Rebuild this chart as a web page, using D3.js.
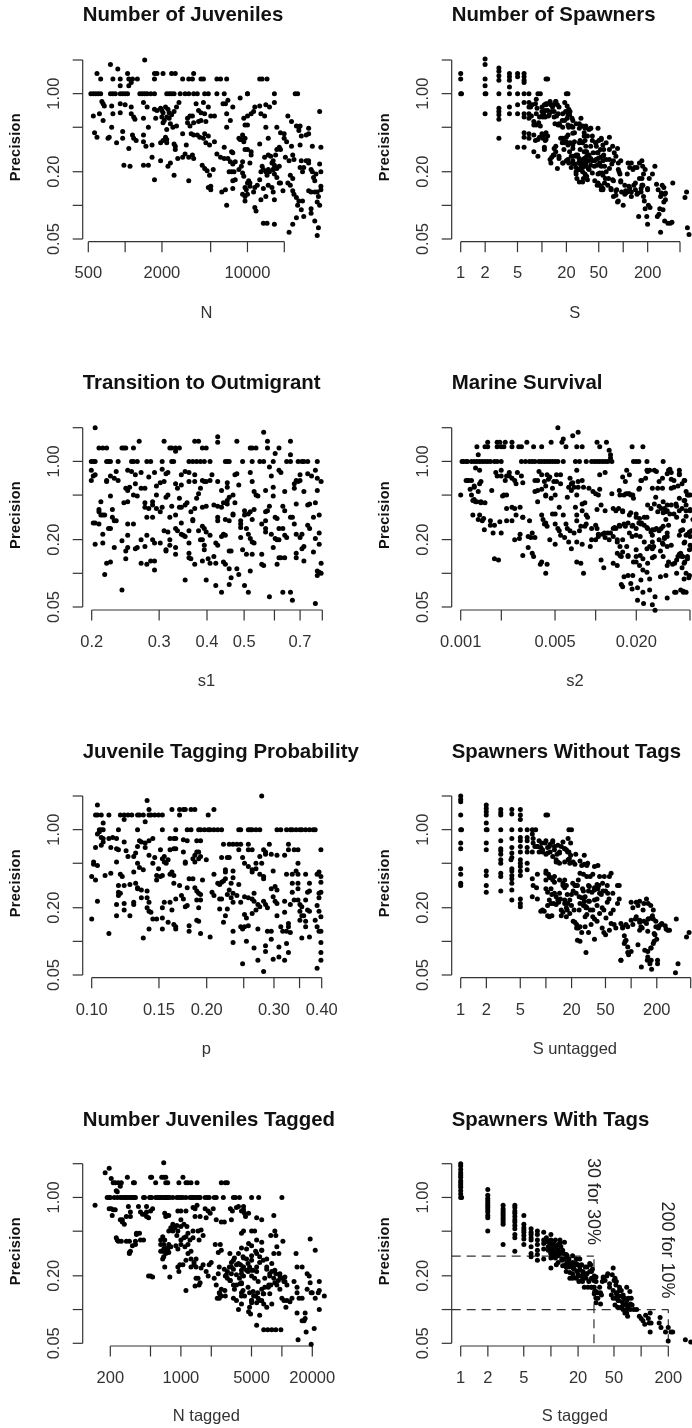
<!DOCTYPE html>
<html><head><meta charset="utf-8">
<script src="https://cdn.jsdelivr.net/npm/d3@7/dist/d3.min.js"></script>
<style>html,body{margin:0;padding:0;background:#fff;overflow:hidden}svg{display:block;filter:blur(0.3px)}</style>
</head><body><svg id="c" width="692" height="1428"></svg>
<script>
// All readings are [log10(x), log10(precision)].
const precisionTicks=[2,1,0.5,0.2,0.1,0.05];
const precisionLabels=[1,0.2,0.05];
const ticksN=[500,1000,2000,5000,10000,20000], labelsN=[500,2000,10000];
const ticksS=[1,2,5,10,20,50,100,200,500], labelsS=[1,2,5,20,50,200];
const ticksS1=[0.2,0.3,0.4,0.5,0.6,0.7,0.8], labelsS1=[0.2,0.3,0.4,0.5,0.7];
const ticksS2=[0.001,0.002,0.005,0.01,0.02,0.05], labelsS2=[0.001,0.005,0.02];
const ticksP=[0.1,0.15,0.2,0.25,0.3,0.35,0.4], labelsP=[0.1,0.15,0.2,0.3,0.4];
const ticksSU=[1,2,5,10,20,50,100,200,500], labelsSU=[1,2,5,20,50,200];
const ticksNT=[200,500,1000,2000,5000,10000,20000], labelsNT=[200,1000,5000,20000];
const ticksST=[1,2,5,10,20,50,100,200], labelsST=[1,2,5,20,50,200];

const juveniles=[[3.16,.30],[2.88,.26],[2.94,.22],[2.77,.18],[3.02,.18],[3.24,.18],[3.26,.18],[3.31,.18],[3.38,.18],[3.41,.18],[3.56,.18],
[2.80,.13],[2.90,.13],[2.96,.13],[3.03,.13],[3.06,.13],[3.10,.13],[3.24,.13],[3.47,.13],[3.52,.13],[3.55,.13],[3.62,.13],[3.64,.13],[3.75,.13],[3.78,.13],[3.83,.13],[4.10,.13],[4.12,.13],[4.16,.13],[2.96,.07],[3.03,.07],[3.05,.10],
[2.72,0],[2.74,0],[2.76,0],[2.78,0],[2.80,0],[2.88,0],[2.90,0],[2.92,0],[2.96,0],[2.98,0],[3.0,0],[3.02,0],[3.12,0],[3.14,0],[3.16,0],[3.18,0],[3.21,0],[3.24,0],[3.34,0],[3.36,0],[3.38,0],[3.40,0],[3.45,0],[3.49,0],[3.52,0],[3.56,0],[3.59,0],[3.65,0],[3.68,0],[3.75,0],[3.81,0],[4.0,0],[4.22,0],[4.39,0],[4.41,0],
[2.81,-.07],[2.83,-.11],[2.82,-.09],[2.89,-.11],[2.96,-.09],[3.0,-.10],[3.05,-.12],[3.15,-.08],[3.18,-.12],[2.74,-.2],[2.79,-.18],[2.82,-.24],[2.90,-.18],[2.96,-.17],[3.05,-.18],[3.07,-.21],[3.08,-.23],[3.15,-.22],[3.19,-.3],[2.89,-.3],[2.75,-.35],[2.77,-.39],[2.87,-.39],[2.86,-.40],[2.98,-.34],[2.98,-.40],[2.93,-.44],[3.03,-.49],[3.06,-.37],[3.07,-.4],[3.09,-.42],[3.15,-.37],[3.15,-.43],[3.17,-.47],[3.22,-.46],[3.22,-.57],[2.99,-.64],[3.04,-.65],[3.15,-.64],[3.19,-.64],[3.24,-.77],[3.29,-.6],
[3.24,-.14],[3.26,-.15],[3.29,-.13],[3.30,-.15],[3.31,-.17],[3.33,-.12],[3.35,-.14],[3.36,-.17],[3.38,-.19],[3.42,-.12],[3.40,-.16],[3.44,-.08],[3.30,-.21],[3.32,-.24],[3.31,-.26],[3.34,-.21],[3.36,-.22],[3.37,-.27],[3.39,-.3],[3.42,-.29],[3.34,-.32],[3.25,-.22],[3.33,-.39],[3.34,-.41],[3.31,-.42],[3.29,-.44],[3.34,-.44],[3.40,-.45],[3.41,-.47],[3.41,-.50],[3.47,-.36],[3.50,-.46],[3.49,-.54],[3.47,-.57],[3.52,-.57],[3.55,-.55],[3.56,-.58],[3.43,-.58],[3.37,-.62],[3.35,-.65],[3.40,-.73],[3.52,-.78],
[3.51,-.22],[3.53,-.2],[3.55,-.2],[3.51,-.26],[3.53,-.29],[3.56,-.26],[3.60,-.25],[3.62,-.24],[3.60,-.15],[3.62,-.17],[3.65,-.18],[3.58,-.09],[3.64,-.08],[3.68,-.12],[3.70,-.2],[3.73,-.2],[3.66,-.25],[3.59,-.37],[3.61,-.39],[3.64,-.40],[3.54,-.36],[3.56,-.37],[3.65,-.36],[3.68,-.38],[3.66,-.44],[3.69,-.46],[3.73,-.43],[3.75,-.54],[3.78,-.57],[3.81,-.58],[3.63,-.64],[3.65,-.67],[3.67,-.69],[3.72,-.68],[3.69,-.73],[3.70,-.83],[3.70,-.86],[3.68,-.84],
[3.80,-.09],[3.82,-.09],[3.84,-.06],[3.83,-.18],[3.86,-.24],[3.83,-.30],[3.88,-.12],[3.94,-.04],[4.0,0],[3.81,-.48],[3.79,-.88],[3.82,-.86],[3.88,-.85],[3.83,-1.0],
[3.84,-.58],[3.86,-.61],[3.87,-.52],[3.88,-.53],[3.88,-.63],[3.89,-.7],[3.90,-.61],[3.85,-.70],[3.87,-.7],[3.88,-.78],[3.93,-.68],[3.90,-.77],[3.95,-.65],[3.96,-.71],[3.96,-.61],[3.98,-.5],[4.0,-.5],[4.03,-.55],[4.02,-.62],[4.03,-.52],[3.97,-.74],[4.0,-.8],[4.02,-.8],[3.99,-.86],[4.01,-.78],[3.93,-.40],[3.95,-.41],[3.98,-.4],[3.97,-.43],[3.94,-.41],[3.96,-.37],
[3.96,-.90],[3.98,-.92],[3.98,-.96],[4.0,-.9],[3.98,-.84],[4.02,-.83],[4.06,-.84],[4.08,-.82],[4.05,-.88],[4.06,-1.02],[4.07,-1.05],[4.10,-.77],[3.98,-.28],[4.0,-.28],[3.97,-.22],[4.0,-.2],[4.03,-.18],[4.05,-.16],[4.06,-.12],[4.10,-.11],[4.15,-.1],[4.22,-.08],[4.18,-.12],[4.11,-.18],[4.14,-.2],[4.15,-.3],[4.17,-.4],[4.10,-.45],[4.14,-.57],[4.17,-.55],[4.19,-.56],
[4.12,-.65],[4.13,-.68],[4.15,-.7],[4.11,-.7],[4.17,-.68],[4.16,-.73],[4.18,-.7],[4.20,-.62],[4.21,-.6],[4.23,-.55],[4.24,-.5],[4.26,-.48],[4.27,-.50],[4.22,-.64],[4.21,-.68],[4.22,-.72],[4.21,-.68],[4.24,-.67],[4.26,-.65],[4.24,-.75],[4.26,-.80],[4.27,-.80],[4.17,-.82],[4.20,-.84],[4.21,-.88],[4.13,-.85],[4.11,-.95],[4.15,-.92],[4.22,-.95],[4.29,-.87],[4.30,-.40],[4.24,-.30],[4.27,-.35],[4.30,-.36],
[4.13,-1.16],[4.16,-1.16],[4.22,-1.17],[4.33,-.2],[4.36,-.25],[4.40,-.29],[4.43,-.29],[4.42,-.33],[4.44,-.38],[4.48,-.37],[4.50,-.36],[4.50,-.31],[4.42,-.30],[4.32,-.43],[4.36,-.47],[4.31,-.57],[4.34,-.6],[4.38,-.59],[4.43,-.46],[4.37,-.55],[4.44,-.6],[4.43,-.66],[4.46,-.66],[4.48,-.60],[4.50,-.62],[4.52,-.68],[4.45,-.70],[4.35,-.73],[4.37,-.76],[4.33,-.8],[4.35,-.82],[4.37,-.87],[4.38,-.90],[4.40,-.93],[4.42,-.96],[4.45,-.96],[4.41,-1.0],[4.44,-1.04],[4.46,-1.1],[4.52,-1.03],[4.52,-1.07],[4.55,-1.14],[4.58,-1.2],[4.57,-1.27],[4.34,-1.24],[4.37,-1.17],[4.40,-1.11],[4.59,-.16],[4.50,-.6],[4.53,-.7],[4.54,-.75],[4.56,-.72],[4.55,-.78],[4.59,-.63],[4.60,-.70],[4.60,-.83],[4.57,-.88],[4.58,-.92],[4.55,-.88],[4.52,-.88],[4.57,-.97],[4.59,-1.0],[4.60,-.86],[4.60,-.48],[4.53,-.47],[4.50,-.87]];

const spawners=[[0,.18],[0,.13],[0,0],[.01,0],[.30,.31],[.30,.26],[.30,.13],[.30,.07],[.30,0],[.31,0],[.30,-.18],
[.47,.23],[.47,.2],[.47,.16],[.47,.12],[.47,0],[.47,-.13],[.47,-.16],[.47,-.19],[.47,-.23],[.47,-.40],
[.60,.18],[.60,.15],[.60,.12],[.60,.06],[.60,0],[.60,-.12],[.60,-.18],[.70,.18],[.70,.15],[.70,0],[.70,-.1],[.70,-.18],[.70,-.48],
[.78,.18],[.78,.15],[.78,.12],[.78,.10],[.78,0],[.78,-.08],[.78,-.18],[.78,-.21],[.78,-.35],[.78,-.39],[.78,-.48],
[.84,0],[.84,-.08],[.84,-.12],[.84,-.18],[.84,-.22],[.84,-.36],[.84,-.40],[.90,-.25],[.90,-.28],[.90,-.37],[.92,-.42],[.87,-.2],[.86,-.12],[.88,-.1],[.92,-.09],[.93,-.05],[.95,0],[.98,0],[.94,-.13],[.93,-.18],[.90,-.52],[.95,-.56],
[1.05,.13],[1.07,.13],[1.0,-.12],[1.03,-.1],[1.05,-.1],[1.07,-.09],[1.0,-.16],[1.02,-.18],[1.04,-.15],[1.07,-.15],[1.0,-.2],[1.04,-.21],[1.08,-.2],[.96,-.26],[.98,-.29],[.97,-.39],[1.0,-.36],[1.02,-.37],[1.05,-.35],[1.07,-.38],[1.04,-.42],[1.03,-.48],[1.03,-.5],[1.10,-.07],[1.13,-.12],[1.14,-.1],[1.17,-.07],[1.19,-.1],[1.12,-.16],[1.15,-.16],[1.18,-.2],[1.20,-.18],[1.16,-.27],[1.20,-.28],[1.22,-.28],[1.15,-.49],[1.14,-.55],[1.17,-.52],[1.12,-.57],[1.10,-.59],[1.11,-.62],[1.21,-.58],[1.19,-.67],[1.26,-.62],[1.30,-.6],
[1.30,0],[1.32,0],[1.28,-.08],[1.31,-.11],[1.29,-.16],[1.33,-.14],[1.25,-.24],[1.28,-.24],[1.31,-.22],[1.34,-.19],[1.33,-.3],[1.37,-.22],[1.36,-.29],[1.38,-.3],[1.23,-.40],[1.26,-.41],[1.25,-.44],[1.3,-.39],[1.32,-.37],[1.32,-.46],[1.35,-.44],[1.27,-.5],[1.38,-.46],[1.40,-.35],[1.38,-.60],[1.34,-.52],[1.33,-.62],[1.31,-.6],[1.36,-.56],[1.38,-.56],[1.36,-.66],[1.4,-.63],[1.42,-.66],[1.42,-.55],[1.42,-.72],[1.43,-.76],[1.46,-.79],[1.5,-.79],[1.51,-.76],
[1.46,-.27],[1.50,-.29],[1.53,-.31],[1.58,-.32],[1.60,-.31],[1.52,-.35],[1.47,-.42],[1.50,-.44],[1.53,-.42],[1.56,-.38],[1.54,-.47],[1.47,-.5],[1.44,-.55],[1.46,-.58],[1.48,-.6],[1.52,-.52],[1.55,-.52],[1.45,-.62],[1.48,-.64],[1.5,-.66],[1.53,-.58],[1.55,-.56],[1.58,-.55],[1.54,-.62],[1.57,-.6],[1.5,-.7],[1.53,-.72],[1.47,-.68],[1.57,-.67],[1.55,-.74],[1.60,-.64],
[1.62,-.42],[1.66,-.44],[1.70,-.42],[1.73,-.40],[1.67,-.47],[1.63,-.53],[1.68,-.53],[1.72,-.5],[1.76,-.5],[1.76,-.55],[1.62,-.6],[1.65,-.6],[1.69,-.58],[1.72,-.57],[1.75,-.6],[1.68,-.64],[1.73,-.65],[1.69,-.72],[1.74,-.71],[1.65,-.78],[1.68,-.82],[1.71,-.82],[1.73,-.86],[1.75,-.85],[1.77,-.8],[1.78,-.76],[1.82,-.76],[1.85,-.85],
[1.86,-.63],[1.88,-.6],[1.83,-.67],[1.94,-.62],[1.97,-.6],[1.94,-.68],[1.96,-.72],[1.88,-.92],[1.91,-.87],[1.92,-.86],[1.94,-.96],[1.93,-.97],[2.0,-1.0],[1.98,-.88],[1.97,-.78],[1.88,-.78],[2.02,-.82],[2.03,-.87],
[2.06,-.62],[2.08,-.66],[2.1,-.62],[2.14,-.66],[2.17,-.66],[2.2,-.62],[2.24,-.65],[2.23,-.6],[2.02,-.9],[2.05,-.88],[2.07,-.83],[2.05,-.72],[2.12,-.68],[2.13,-.82],[2.15,-.8],[2.15,-.86],[2.10,-.88],[2.17,-.9],[2.2,-.76],[2.23,-.76],[2.25,-.72],[2.27,-.68],[2.24,-.82],[2.22,-.88],[2.25,-.92],[2.26,-.96],[2.23,-.82],[2.19,-1.1],[2.27,-1.03],[2.29,-1.1],[2.31,-1.0],[2.33,-1.02],[2.3,-.85],[2.3,-1.17],[2.42,-1.1],[2.45,-1.03],[2.46,-.92],[2.44,-1.08],
[2.32,-.76],[2.36,-.72],[2.39,-.65],[2.41,-.81],[2.43,-.86],[2.47,-.89],[2.50,-.84],[2.48,-.82],[2.52,-.89],[2.50,-.97],[2.52,-.95],[2.49,-1.04],[2.51,-.90],[2.46,-1.24],[2.51,-1.14],[2.55,-1.16],[2.58,-1.16],[2.60,-1.15],[2.61,-.80],[2.76,-.93],[2.78,-.88],[2.79,-1.2],[2.81,-1.26],
[1.05,-.09],[1.11,-.1],[1.17,-.07],[1.21,-.12],[1.255,-.18],[1.32,-.19],[1.345,-.16],[1.38,-.24],[1.42,-.27],[1.46,-.31],[1.48,-.22],[1.54,-.29],[1.6,-.31],[1.69,-.31],[1.255,-.3],[1.32,-.28],[1.21,-.27],[1.15,-.21],[1.09,-.19],[1.01,-.21],[.93,-.28],[.97,-.21],
[1.38,-.49],[1.42,-.56],[1.46,-.59],[1.5,-.62],[1.54,-.65],[1.58,-.68],[1.62,-.71],[1.56,-.77],[1.645,-.65],[1.665,-.59],[1.71,-.62],[1.75,-.56],[1.79,-.59],[1.83,-.5],[1.87,-.47],[1.89,-.53],[1.93,-.49],[1.91,-.56],[1.83,-.59],[1.77,-.65],[1.71,-.71],[1.75,-.73],[1.79,-.7],[1.69,-.8],[1.73,-.83],[1.75,-.86],[1.81,-.82],[1.87,-.77],[1.85,-.86],[1.91,-.91],[1.54,-.52],[1.6,-.47],[1.665,-.44],[1.73,-.41],[1.83,-.39],[1.46,-.44],[1.52,-.38],[1.62,-.38],[1.75,-.46],[1.79,-.44],[1.69,-.53],[1.6,-.58],[1.52,-.58],[1.46,-.68],[1.42,-.7],[1.38,-.62],[1.32,-.59],[1.255,-.62],
[1.17,-.47],[1.15,-.55],[1.21,-.56],[1.275,-.44],[1.255,-.4],[1.3,-.43],[1.38,-.355],[1.4,-.43],[1.05,-.41],[1.01,-.4],[.95,-.41],[1.95,-.7],[1.97,-.79],[2.03,-.89],[2.08,-.85],[2.1,-.92],[2.18,-.89],[2.22,-.85],[2.3,-.86],[2.24,-.82]];

const transition=[[-.69,.30],[-.68,.12],[-.67,.12],[-.66,.12],[-.62,.12],[-.615,.12],[-.61,.12],[-.59,.12],[-.575,.18],[-.51,.18],[-.495,.12],[-.49,.12],[-.48,.12],[-.47,.12],[-.48,.09],[-.43,.18],[-.42,.18],[-.41,.12],[-.40,.12],[-.37,.22],[-.37,.17],[-.32,.18],[-.285,.12],[-.28,.12],[-.27,.12],[-.25,.26],[-.24,.18],[-.24,.12],[-.21,.12],[-.22,.07],[-.18,.18],[-.18,.06],
[-.70,0],[-.695,0],[-.69,0],[-.66,0],[-.655,0],[-.65,0],[-.63,0],[-.595,0],[-.59,0],[-.58,0],[-.555,0],[-.545,0],[-.515,0],[-.49,0],[-.485,0],[-.445,0],[-.435,0],[-.425,0],[-.415,0],[-.405,0],[-.39,0],[-.35,0],[-.345,0],[-.34,0],[-.305,0],[-.28,0],[-.26,0],[-.25,0],[-.225,0],[-.19,0],[-.18,0],[-.16,0],[-.15,0],[-.145,0],[-.135,0],[-.11,0],
[-.70,-.08],[-.70,-.17],[-.695,-.13],[-.69,-.12],[-.66,-.17],[-.66,-.18],[-.65,-.13],[-.64,-.15],[-.635,-.09],[-.63,-.17],[-.605,-.08],[-.595,-.09],[-.585,-.12],[-.57,-.1],
[-.61,-.24],[-.605,-.26],[-.6,-.23],[-.585,-.2],[-.59,-.3],[-.58,-.31],[-.57,-.24],[-.56,-.24],[-.55,-.14],[-.535,-.1],[-.53,-.22],[-.53,-.3],[-.52,-.19],[-.51,-.18],[-.515,-.07],[-.505,-.11],[-.5,-.1],[-.5,-.3],[-.505,-.32],
[-.48,-.2],[-.475,-.24],[-.465,-.12],[-.465,-.21],[-.455,-.09],[-.445,-.1],[-.445,-.18],[-.43,-.12],[-.43,-.18],[-.41,-.17],[-.405,-.18],[-.4,-.18],[-.39,-.17],[-.385,-.12],[-.37,-.18],[-.415,-.24],[-.42,-.29],[-.425,-.33],
[-.36,-.26],[-.345,-.19],[-.345,-.23],[-.325,-.12],[-.32,-.11],[-.315,-.21],[-.33,-.3],[-.34,-.32],[-.345,-.35],
[-.285,-.1],[-.28,-.18],[-.275,-.27],[-.27,-.3],[-.265,-.31],[-.245,-.26],[-.225,-.31],[-.23,-.13],[-.235,-.05],[-.225,-.23],[-.21,-.08],[-.205,-.1],[-.195,-.27],
[-.165,-.17],[-.17,-.2],[-.17,-.24],[-.16,-.18],[-.155,-.17],[-.155,-.12],[-.145,-.27],[-.135,-.11],[-.125,-.13],[-.115,-.08],[-.11,-.15],[-.1,-.18],[-.11,-.26],
[-.675,-.36],[-.68,-.43],[-.68,-.45],[-.675,-.48],[-.67,-.48],[-.665,-.48],[-.645,-.43],[-.65,-.31],[-.645,-.5],[-.64,-.53],[-.635,-.53],
[-.615,-.37],[-.605,-.36],[-.56,-.37],[-.56,-.41],[-.55,-.42],[-.54,-.36],[-.54,-.39],[-.53,-.42],[-.515,-.41],[-.54,-.5],[-.555,-.5],[-.52,-.45],[-.495,-.5],[-.49,-.4],[-.48,-.48],[-.47,-.33],[-.47,-.41],[-.465,-.41],[-.455,-.39],[-.45,-.37],
[-.44,-.45],[-.435,-.52],[-.43,-.42],[-.41,-.41],[-.4,-.4],[-.38,-.39],[-.37,-.4],[-.36,-.41],[-.355,-.37],[-.345,-.38],[-.325,-.37],[-.33,-.47],[-.33,-.48],[-.37,-.5],[-.37,-.53],[-.35,-.52],[-.34,-.53],
[-.3,-.44],[-.29,-.47],[-.3,-.48],[-.285,-.45],[-.275,-.43],[-.31,-.53],[-.28,-.52],[-.245,-.45],[-.24,-.44],[-.235,-.4],[-.245,-.53],[-.22,-.5],[-.215,-.51],[-.2,-.4],[-.195,-.44],[-.18,-.5],[-.175,-.5],[-.165,-.38],[-.135,-.39],[-.13,-.38],[-.115,-.37],[-.105,-.48],[-.12,-.5],
[-.695,-.55],[-.69,-.55],[-.68,-.56],[-.655,-.6],[-.65,-.6],[-.67,-.65],[-.69,-.74],[-.67,-.73],[-.64,-.77],[-.605,-.56],[-.59,-.56],[-.605,-.66],[-.62,-.71],[-.605,-.77],[-.61,-.8],[-.585,-.78],[-.58,-.77],[-.57,-.7],[-.56,-.76],
[-.555,-.66],[-.54,-.7],[-.535,-.73],[-.52,-.73],[-.51,-.62],[-.5,-.63],[-.505,-.79],[-.495,-.7],[-.495,-.75],[-.48,-.77],[-.48,-.6],[-.475,-.62],[-.465,-.65],[-.46,-.66],[-.465,-.55],[-.455,-.67],[-.445,-.73],[-.445,-.62],[-.435,-.53],
[-.42,-.62],[-.41,-.58],[-.405,-.6],[-.4,-.63],[-.39,-.66],[-.415,-.7],[-.41,-.7],[-.405,-.75],[-.405,-.79],[-.375,-.73],[-.37,-.75],[-.36,-.67],[-.355,-.65],[-.35,-.66],[-.34,-.8],[-.335,-.8],
[-.31,-.56],[-.31,-.59],[-.31,-.68],[-.295,-.6],[-.29,-.65],[-.285,-.69],[-.28,-.72],[-.275,-.73],[-.305,-.79],[-.295,-.83],[-.28,-.83],[-.255,-.56],[-.245,-.6],[-.245,-.63],[-.23,-.65],[-.225,-.77],[-.255,-.83],[-.22,-.69],[-.21,-.6],[-.2,-.6],[-.19,-.68],[-.195,-.66],[-.215,-.7],[-.21,-.7],[-.17,-.56],[-.165,-.65],[-.155,-.68],[-.15,-.65],[-.135,-.57],[-.13,-.6],[-.145,-.76],[-.15,-.78],[-.115,-.69],[-.105,-.64],[-.105,-.74],[-.12,-.81],
[-.61,-.87],[-.66,-.91],[-.65,-.9],[-.665,-1.01],[-.62,-1.15],[-.57,-.91],[-.555,-.92],[-.545,-.89],[-.535,-.89],[-.535,-.97],
[-.505,-.8],[-.48,-.83],[-.445,-.82],[-.445,-.86],[-.44,-.87],[-.43,-.92],[-.455,-1.06],[-.41,-.89],[-.395,-.87],[-.39,-.91],[-.375,-.91],[-.38,-.85],[-.4,-1.06],[-.375,-1.11],[-.36,-1.17],
[-.355,-.9],[-.35,-.92],[-.34,-.96],[-.335,-1.04],[-.34,-1.1],[-.32,-.96],[-.315,-1.01],[-.3,-1.11],[-.29,-1.17],[-.285,-.98],
[-.255,-.92],[-.25,-.93],[-.235,-1.21],[-.215,-.92],[-.21,-.86],[-.205,-.86],[-.195,-.86],[-.2,-1.17],[-.18,-1.17],[-.175,-1.24],[-.165,-.82],[-.165,-.86],[-.145,-.89],
[-.115,-1.27],[-.11,-1.02],[-.11,-.98],[-.1,-1.0],[-.1,-.91],[-.105,-.99]];

const marine=[[-3,-.3],[-2.99,0],[-2.98,0],[-2.96,0],[-2.95,0],[-2.92,0],[-2.90,0],[-2.88,0],[-2.86,0],[-2.84,0],[-2.82,0],[-2.80,0],[-2.78,0],[-2.75,0],[-2.73,0],[-2.70,0],[-2.42,0],[-2.40,0],[-2.38,0],[-2.36,0],[-2.34,0],[-2.32,0],[-2.30,0],[-2.55,0],[-2.52,0],[-2.49,0],[-2.47,0],[-2.45,0],[-2.28,0],[-2.24,0],[-2.15,0],[-2.12,0],[-2.07,0],[-2.03,0],[-2.01,0],[-1.99,0],[-1.97,0],[-1.95,0],[-1.93,0],[-1.91,0],[-1.88,0],[-1.72,0],[-1.70,0],[-1.68,0],[-1.62,0],[-1.50,0],
[-2.88,.13],[-2.82,.13],[-2.80,.13],[-2.73,.13],[-2.70,.13],[-2.68,.13],[-2.62,.13],[-2.57,.13],[-2.55,.13],[-2.46,.13],[-2.40,.13],[-2.22,.13],[-2.14,.13],[-2.10,.13],[-1.73,.13],[-1.65,.13],[-1.97,.13],[-1.90,.10],[-1.89,.06],[-1.89,.03],[-2.87,.06],
[-2.80,.17],[-2.73,.17],[-2.71,.17],[-2.67,.17],[-2.62,.17],[-2.51,.17],[-2.33,.17],[-2.25,.17],[-1.99,.17],[-1.92,.17],[-2.24,.2],[-2.17,.23],[-2.13,.26],[-2.28,.3],
[-2.89,-.06],[-2.86,-.08],[-2.70,-.08],[-2.74,-.1],[-2.73,-.13],[-2.70,-.13],[-2.66,-.13],[-2.64,-.1],[-2.58,-.1],[-2.55,-.13],[-2.42,-.09],[-2.40,-.12],[-2.36,-.12],[-2.34,-.14],[-2.29,-.12],[-2.26,-.12],[-2.14,-.08],[-1.97,-.12],[-1.93,-.1],[-1.77,-.08],[-1.75,-.12],[-1.62,-.08],[-1.60,-.08],[-1.55,-.09],[-1.46,-.08],[-1.45,-.07],[-1.38,-.11],
[-2.96,-.17],[-2.94,-.17],[-2.92,-.17],[-2.90,-.22],[-2.93,-.25],[-2.86,-.2],[-2.85,-.18],[-2.77,-.26],[-2.67,-.17],[-2.64,-.13],[-2.59,-.2],[-2.62,-.15],[-2.60,-.17],[-2.54,-.19],[-2.45,-.17],[-2.43,-.17],[-2.38,-.18],[-2.35,-.16],[-2.31,-.18],[-2.29,-.18],[-2.37,-.22],[-2.40,-.25],[-2.43,-.26],[-2.37,-.3],[-2.32,-.24],[-2.19,-.15],[-2.17,-.19],[-2.13,-.18],[-2.10,-.17],[-2.18,-.2],[-2.16,-.23],[-2.13,-.23],[-2.09,-.23],[-2.20,-.23],[-2.18,-.26],[-2.05,-.24],[-2.02,-.27],[-1.97,-.25],
[-2.92,-.3],[-2.90,-.34],[-2.88,-.36],[-2.85,-.36],[-2.82,-.37],[-2.68,-.3],[-2.66,-.3],[-2.60,-.42],[-2.56,-.41],[-2.45,-.27],[-2.43,-.36],[-2.37,-.31],[-2.33,-.33],[-2.30,-.3],[-2.26,-.2],[-2.21,-.32],[-2.14,-.3],[-2.10,-.38],[-2.08,-.37],[-2.0,-.29],[-1.98,-.3],[-1.88,-.29],[-1.82,-.3],[-1.79,-.3],[-1.76,-.29],[-1.74,-.3],[-1.72,-.33],[-1.68,-.25],[-1.66,-.17],[-1.63,-.15],
[-2.86,-.48],[-2.83,-.51],[-2.78,-.53],[-2.75,-.57],[-2.71,-.54],[-2.62,-.53],[-2.54,-.5],[-2.49,-.53],[-2.40,-.48],[-2.37,-.55],[-2.32,-.47],[-2.30,-.47],[-2.27,-.41],[-2.24,-.48],[-2.14,-.48],[-2.15,-.41],[-2.14,-.53],[-2.10,-.44],[-2.07,-.48],[-2.06,-.5],[-1.99,-.43],[-1.96,-.39],[-1.93,-.44],[-1.87,-.42],[-1.83,-.42],[-1.80,-.44],[-1.74,-.46],[-1.70,-.47],[-1.64,-.5],[-1.62,-.5],
[-2.39,-.52],[-2.38,-.56],[-2.36,-.58],[-2.30,-.56],[-2.28,-.60],[-2.27,-.62],[-2.22,-.56],[-2.21,-.6],[-2.19,-.62],[-2.16,-.64],[-2.12,-.62],[-2.11,-.58],[-2.07,-.56],[-2.08,-.58],[-2.03,-.6],[-2.0,-.57],[-1.98,-.65],[-1.99,-.60],[-1.95,-.65],[-1.91,-.64],[-1.89,-.64],[-1.86,-.59],[-1.82,-.58],[-1.78,-.58],[-1.76,-.55],[-1.73,-.58],[-1.68,-.55],[-1.66,-.55],[-1.62,-.59],[-1.58,-.61],[-1.55,-.6],[-1.58,-.66],
[-2.76,-.64],[-2.60,-.70],[-2.56,-.65],[-2.45,-.68],[-2.48,-.68],[-2.34,-.70],[-2.30,-.74],[-2.26,-.66],[-2.23,-.68],[-2.20,-.72],[-2.18,-.78],[-2.14,-.72],[-2.10,-.74],[-2.04,-.76],[-2.03,-.70],[-2.0,-.70],[-1.98,-.67],[-1.93,-.68],[-1.90,-.7],[-1.84,-.72],[-1.82,-.76],[-1.77,-.76],[-1.73,-.67],[-1.67,-.67],[-1.64,-.72],[-1.6,-.76],[-1.57,-.76],[-1.53,-.7],[-1.50,-.74],[-1.49,-.68],
[-2.47,-.82],[-2.46,-.85],[-2.72,-.88],[-2.40,-.9],[-2.41,-.92],[-2.37,-1.0],[-2.36,-.92],[-2.14,-.9],[-2.11,-.91],[-2.09,-1.0],[-1.96,-.88],[-1.94,-.95],[-1.87,-.91],[-1.84,-.93],[-1.82,-.84],[-1.76,-.84],[-1.72,-.9],[-1.70,-.85],[-1.67,-.84],[-1.65,-.87],[-1.62,-.78],[-1.58,-.86],[-1.52,-.8],[-1.50,-.85],[-1.46,-.9],[-1.43,-.92],[-1.4,-.88],[-1.36,-.85],[-1.34,-.9],[-1.32,-.85],[-1.38,-.83],
[-1.80,-1.12],[-1.76,-1.02],[-1.73,-1.14],[-1.69,-1.13],[-1.62,-.99],[-1.60,-1.15],[-1.58,-1.28],[-1.56,-1.33],[-1.6,-1.05],[-1.52,-1.03],[-1.47,-1.22],[-1.40,-1.0],[-1.36,-.95],[-1.33,-1.0],[-1.37,-1.15],[-1.35,-1.17],[-1.33,-1.17],[-1.31,-1.04],
[-1.58,-.72],[-1.53,-.62],[-1.50,-.58],[-1.46,-.57],[-1.47,-.64],[-1.42,-.47],[-1.40,-.40],[-1.36,-.42],[-1.33,-.39],[-1.30,-.44],[-1.53,-.40],[-1.50,-.46],[-1.48,-.52],[-1.45,-.47],[-1.40,-.5],[-1.38,-.44],[-1.35,-.53],[-1.44,-.16],[-1.42,-.17],[-1.42,-.23],[-1.39,-.22],[-1.36,-.2],[-1.34,-.17],[-1.31,-.3],[-1.34,-.35],[-1.33,-.27],[-1.30,-.43],[-1.28,-.52],[-1.26,-.4],[-1.5,-.36],[-1.47,-.44],[-1.3,-.3],
[-1.37,-.62],[-1.34,-.72],[-1.32,-.65],[-1.30,-.75],[-1.30,-.67],[-1.28,-.78],[-1.26,-.70],[-1.27,-.74],[-1.29,-.62],[-1.26,-.83],
[-1.615,-.39],[-1.59,-.42],[-1.565,-.38],[-1.54,-.45],[-1.515,-.42],[-1.49,-.42],[-1.47,-.39],[-1.44,-.39],[-1.405,-.38],[-1.48,-.45],[-1.555,-.32],[-1.53,-.18],[-1.505,-.15],[-1.47,-.11],[-1.44,-.1],[-1.38,-.12],[-1.38,-.08],[-1.345,-.17],[-1.38,-.33],[-1.345,-.35],[-1.32,-.3],[-1.33,-.44],[-1.33,-.49],[-1.615,-.09],[-1.565,-.08],[-1.665,-.17],[-1.675,-.24],[-1.725,-.3],[-1.75,-.29],[-1.775,-.29],[-1.825,-.26],[-1.8,-.14],[-1.78,-.18],[-1.58,-.24],[-1.54,-.24],[-1.505,-.24],[-1.44,-.24],
[-1.515,-.6],[-1.49,-.69],[-1.47,-.67],[-1.505,-.73],[-1.47,-.76],[-1.44,-.75],[-1.38,-.66],[-1.355,-.61],[-1.33,-.66],[-1.305,-.63],[-1.345,-.73],[-1.305,-.79],[-1.37,-.82],[-1.39,-.85],[-1.415,-.91],[-1.47,-.93],[-1.355,-.85],[-1.32,-.87],[-1.345,-.91],[-1.48,-1.02],[-1.345,-1.05],[-1.305,-1.02],[-1.58,-.78],[-1.565,-.85],[-1.615,-.91],[-1.65,-.97],[-1.675,-.93],[-1.7,-.9],[-1.665,-1.06],[-1.725,-1.02],[-1.74,-1.09],[-1.81,-1.1],[-1.79,-1.03],[-1.65,-1.17],[-1.69,-1.24],[-1.645,-1.27],[-1.56,-1.21],[-1.415,-1.17],[-1.35,-1.16],[-1.405,-1.17],
[-1.85,-.44],[-1.8,-.45],[-1.75,-.48],[-1.7,-.5],[-1.675,-.51],[-1.665,-.56],[-1.64,-.57],[-1.615,-.6],[-1.59,-.63],[-1.565,-.61],[-1.7,-.6],[-1.725,-.57],[-1.79,-.56],[-1.825,-.57],[-1.85,-.6],[-1.87,-.6],[-1.935,-.64],[-1.87,-.67],[-1.84,-.7],[-1.8,-.7],[-1.75,-.64],[-1.7,-.66],[-1.8,-.81],[-1.84,-.82],[-1.81,-.85],[-1.76,-.85],[-1.7,-.79],
[-2.95,-.17],[-2.9,-.23],[-2.87,-.27],[-2.91,-.35],[-2.89,-.36],[-2.85,-.37],[-2.91,-.48],[-2.87,-.52],[-2.84,-.53],[-2.825,-.61],[-2.78,-.57],[-2.75,-.87],[-2.7,-.64],[-2.69,-.31],[-2.66,-.42],[-2.62,-.41],[-2.66,-.53],[-2.59,-.48],[-2.54,-.5],[-2.565,-.69],[-2.5,-.67],[-2.47,-.64],[-2.54,-.84],[-2.5,-.77]];

const tagProb=[[-.555,.30],[-.985,.22],[-.855,.26],[-.85,.18],[-.79,.18],[-.77,.18],[-.76,.18],[-.755,.18],[-.74,.18],[-.73,.18],[-.68,.18],[-.695,.13],
[-.99,.13],[-.985,.13],[-.975,.13],[-.955,.13],[-.925,.13],[-.915,.13],[-.905,.13],[-.895,.13],[-.88,.13],[-.875,.13],[-.865,.13],[-.85,.13],[-.845,.13],[-.835,.13],[-.825,.13],[-.815,.13],[-.77,.13],[-.915,.09],[-.97,.06],[-.86,.07],
[-.98,0],[-.975,0],[-.97,0],[-.93,0],[-.88,0],[-.815,0],[-.78,0],[-.75,0],[-.74,0],[-.72,0],[-.715,0],[-.705,0],[-.695,0],[-.69,0],[-.68,0],[-.67,0],[-.66,0],[-.615,0],[-.61,0],[-.59,0],[-.585,0],[-.58,0],[-.57,0],[-.56,0],[-.515,0],[-.505,0],[-.49,0],[-.48,0],[-.475,0],[-.465,0],[-.455,0],[-.45,0],[-.44,0],[-.43,0],[-.42,0],[-.415,0],
[-.985,-.04],[-.98,-.02],[-.975,-.07],[-.97,-.08],[-.97,-.11],[-.975,-.14],[-.99,-.16],[-.955,-.08],[-.945,-.07],[-.935,-.08],[-.95,-.16],[-.935,-.17],[-.93,-.18],[-.915,-.11],[-.91,-.19],[-.935,-.29],
[-.875,-.1],[-.87,-.11],[-.86,-.12],[-.85,-.1],[-.84,-.08],[-.88,-.15],[-.86,-.16],[-.85,-.23],[-.905,-.24],[-.89,-.24],[-.885,-.21],[-.84,-.3],[-.835,-.25],[-.82,-.18],
[-.795,-.08],[-.785,-.08],[-.78,-.08],[-.785,-.17],[-.795,-.18],[-.78,-.17],[-.76,-.09],[-.75,-.1],[-.725,-.1],[-.715,-.1],[-.76,-.2],[-.725,-.2],[-.72,-.2],[-.73,-.23],[-.715,-.24],[-.735,-.26],[-.73,-.29],[-.72,-.26],[-.7,-.27],[-.755,-.3],[-.755,-.29],
[-.815,-.26],[-.81,-.24],[-.81,-.29],[-.8,-.27],[-.805,-.3],
[-.655,-.13],[-.64,-.13],[-.63,-.13],[-.62,-.13],[-.61,-.13],[-.59,-.13],[-.615,-.18],[-.59,-.18],[-.58,-.18],[-.535,-.13],[-.485,-.13],[-.485,-.18],[-.47,-.18],[-.46,-.18],[-.55,-.18],[-.545,-.2],[-.545,-.22],[-.53,-.22],[-.515,-.23],[-.495,-.23],[-.4,-.18],
[-.66,-.25],[-.645,-.25],[-.64,-.25],[-.56,-.24],[-.605,-.25],[-.6,-.3],[-.59,-.33],[-.58,-.36],[-.57,-.3],[-.555,-.3],[-.57,-.35],[-.58,-.38],[-.56,-.4],[-.55,-.42],[-.55,-.44],[-.46,-.3],
[-.88,-.3],[-.875,-.34],[-.865,-.36],[-.89,-.38],[-.995,-.29],[-.995,-.31],[-.985,-.32],[-1.0,-.42],[-.99,-.45],[-.965,-.41],[-.95,-.39],[-.925,-.4],[-.92,-.42],
[-.93,-.5],[-.915,-.5],[-.9,-.49],[-.885,-.48],[-.88,-.52],[-.87,-.54],[-.855,-.55],[-.93,-.56],[-.925,-.57],[-.93,-.59],[-.88,-.53],
[-.825,-.35],[-.83,-.41],[-.82,-.42],[-.83,-.45],[-.815,-.41],[-.795,-.4],[-.79,-.38],[-.785,-.41],[-.785,-.48],[-.77,-.5],[-.745,-.44],[-.735,-.44],[-.71,-.45],[-.75,-.52],[-.73,-.52],[-.725,-.55],[-.72,-.57],[-.715,-.58],[-.765,-.59],[-.78,-.62],[-.76,-.62],[-.81,-.65],[-.795,-.65],[-.815,-.7],[-.79,-.72],[-.755,-.69],[-.75,-.68],[-.725,-.63],[-.715,-.63],[-.72,-.7],
[-.85,-.65],[-.855,-.7],[-.85,-.73],[-.845,-.74],[-.87,-.61],[-.855,-.61],[-.89,-.65],[-.89,-.67],[-.935,-.67],[-.915,-.66],[-.915,-.72],[-.9,-.77],[-.935,-.77],[-.985,-.64],[-1.0,-.8],
[-.84,-.8],[-.83,-.8],[-.815,-.79],[-.8,-.83],[-.785,-.85],[-.78,-.87],[-.78,-.89],[-.745,-.86],[-.745,-.91],[-.725,-.81],[-.72,-.82],[-.715,-.93],[-.69,-.96],[-.815,-.89],[-.85,-.89],[-.865,-.97],[-.955,-.93],
[-.685,-.56],[-.68,-.59],[-.68,-.4],[-.67,-.48],[-.66,-.47],[-.655,-.46],[-.665,-.49],[-.65,-.44],[-.65,-.36],[-.65,-.38],[-.63,-.37],[-.63,-.43],[-.635,-.48],[-.615,-.49],[-.64,-.54],[-.645,-.58],[-.63,-.57],[-.62,-.59],[-.635,-.61],[-.665,-.62],[-.66,-.62],[-.665,-.71],[-.645,-.71],[-.65,-.77],[-.655,-.83],[-.63,-.65],[-.61,-.65],[-.6,-.6],[-.59,-.61],[-.58,-.62],[-.575,-.64],[-.575,-.57],[-.565,-.67],[-.56,-.69],[-.55,-.64],[-.57,-.72],[-.58,-.75],[-.545,-.67],[-.54,-.7],[-.6,-.76],[-.595,-.79],
[-.61,-.87],[-.605,-.89],[-.63,-.91],[-.6,-.87],[-.59,-.86],[-.565,-.89],[-.54,-.91],[-.53,-.91],[-.63,-1.01],[-.595,-1.0],[-.575,-1.06],[-.605,-1.2],[-.565,-1.17],[-.55,-1.27],[-.545,-1.04],[-.53,-.98],[-.545,-1.09],
[-.525,-.37],[-.53,-.53],[-.52,-.51],[-.515,-.54],[-.525,-.6],[-.52,-.64],[-.515,-.66],[-.495,-.64],[-.515,-.77],[-.495,-.74],[-.505,-.87],[-.5,-.91],[-.49,-.91],[-.48,-.92],[-.485,-.84],[-.485,-.87],[-.49,-1.02],[-.51,-1.05],[-.485,-1.1],[-.525,-1.16],[-.51,-1.14],[-.495,-1.17],
[-.49,-.4],[-.475,-.4],[-.465,-.37],[-.46,-.4],[-.44,-.4],[-.475,-.48],[-.46,-.48],[-.46,-.53],[-.475,-.56],[-.47,-.63],[-.46,-.63],[-.48,-.67],[-.455,-.67],[-.45,-.69],[-.44,-.63],[-.43,-.48],[-.435,-.56],[-.43,-.55],[-.455,-.73],[-.45,-.77],[-.455,-.81],[-.445,-.77],[-.44,-.82],[-.435,-.72],[-.43,-.73],[-.44,-.87],[-.45,-.97],[-.43,-.96],
[-.41,-.4],[-.405,-.38],[-.4,-.42],[-.4,-.47],[-.405,-.57],[-.405,-.61],[-.4,-.56],[-.41,-.68],[-.405,-.73],[-.4,-.78],[-.415,-.81],[-.41,-.87],[-.405,-.91],[-.4,-.91],[-.4,-1.01],[-.4,-1.1],[-.4,-1.17],[-.41,-1.24]];

const sUntagged=[[0,.30],[0,.27],[0,.25],[0,.13],[0,0],[.01,0],[0,-.12],[0,-.17],[0,-.35],[0,-.40],[0,-.48],[0,-.5],[.30,.22],[.30,.19],[.30,.16],[.30,.13],[.30,.06],[.30,.0],[.31,0],[.30,-.12],[.30,-.18],[.30,-.37],[.30,-.41],[.30,-.5],[.30,-.56],
[.47,.18],[.47,.15],[.47,.13],[.47,0],[.47,-.1],[.47,-.17],[.47,-.19],[.47,-.22],[.47,-.27],[.47,-.3],[.47,-.39],[.47,-.42],[.47,-.55],
[.60,.18],[.60,.14],[.60,0],[.60,-.08],[.60,-.16],[.60,-.21],[.60,-.25],[.60,-.37],[.60,-.41],[.60,-.44],[.60,-.48],[.60,-.54],[.60,-.63],[.59,-.27],[.60,-.35],
[.70,.18],[.70,.13],[.70,.09],[.70,0],[.70,-.07],[.70,-.1],[.70,-.15],[.70,-.2],[.70,-.27],[.70,-.3],[.70,-.33],[.70,-.37],[.70,-.41],[.70,-.62],[.70,-.66],[.70,-.69],
[.78,0],[.78,-.07],[.78,-.1],[.78,-.16],[.78,-.2],[.78,-.3],[.78,-.36],[.84,0],[.88,0],[.84,-.04],[.85,-.08],[.85,-.12],[.87,-.15],[.90,-.15],[.94,-.16],[.92,-.1],[.95,-.12],[.99,-.12],[.92,-.2],[.96,-.2],[.84,-.2],[.84,-.44],[.85,-.5],[.89,-.52],[.90,-.4],[.84,-.6],[.90,-.62],
[1.0,.13],[1.02,.13],[1.0,-.1],[1.02,-.16],[1.0,-.22],[1.05,-.2],[1.05,-.13],[1.08,-.1],[1.10,-.15],[1.13,-.22],[1.16,-.2],[1.12,-.27],[1.14,-.29],[1.16,-.3],[1.20,-.11],[1.18,-.15],[1.0,-.37],[1.0,-.45],[1.03,-.4],[1.05,-.43],[1.08,-.45],[1.1,-.47],[1.0,-.53],[1.02,-.56],[1.06,-.53],[1.07,-.58],[1.12,-.6],[1.15,-.65],[1.17,-.62],[1.12,-.67],[1.18,-.72],[1.02,-.77],[1.04,-.78],[1.07,-.77],[.94,-.73],[.96,-.72],[.98,-.73],[1.02,-.68],[1.06,-.66],[1.09,-.66],
[1.22,-.17],[1.24,-.18],[1.27,-.2],[1.29,-.23],[1.26,-.27],[1.28,-.3],[1.32,-.29],[1.34,-.31],[1.22,-.45],[1.24,-.5],[1.2,-.5],[1.22,-.52],[1.25,-.58],[1.28,-.63],[1.22,-.66],[1.24,-.7],[1.20,-.74],[1.25,-.72],[1.18,-.77],[1.24,-.78],[1.30,-.58],[1.32,-.55],[1.34,-.5],[1.37,-.5],[1.30,-.68],[1.33,-.72],[1.32,-.82],[1.28,-.75],
[1.27,0],[1.30,0],[1.26,-.08],[1.29,-.12],[1.35,-.22],[1.40,-.28],[1.42,-.32],[1.45,-.31],[1.48,-.32],[1.40,-.39],[1.44,-.4],[1.38,-.45],[1.48,-.42],[1.52,-.42],[1.55,-.4],[1.5,-.5],[1.44,-.55],[1.46,-.6],[1.42,-.61],[1.50,-.55],[1.54,-.56],[1.57,-.52],[1.60,-.49],[1.62,-.5],[1.40,-.66],[1.44,-.68],[1.48,-.7],[1.50,-.64],[1.36,-.85],[1.40,-.87],[1.42,-.92],[1.46,-.87],[1.34,-.83],[1.36,-.88],[1.38,-.88],[1.37,-.99],[1.40,-1.0],[1.47,-1.1],[1.57,-.98],[1.50,-.92],
[1.45,-.68],[1.47,-.7],[1.46,-.78],[1.48,-.76],[1.52,-.72],[1.55,-.78],[1.53,-.85],[1.57,-.8],[1.60,-.62],[1.65,-.58],[1.67,-.55],[1.70,-.55],[1.72,-.5],[1.60,-.68],[1.66,-.7],[1.68,-.72],[1.72,-.65],[1.74,-.62],[1.60,-.82],[1.66,-.88],[1.68,-.92],[1.70,-.94],[1.76,-.75],[1.79,-.72],
[1.80,-.85],[1.82,-.88],[1.88,-.84],[1.9,-.88],[1.94,-.85],[1.92,-.95],[1.93,-1.0],[1.96,-1.05],[1.96,-1.1],[1.97,-1.12],[2.02,-.85],[2.05,-.8],[1.84,-.66],[1.86,-.62],[2.0,-.65],[2.02,-.7],[2.06,-.65],[2.08,-.68],[2.1,-.64],[2.15,-.66],[2.14,-.72],[2.18,-.62],[2.2,-.66],[2.23,-.68],[2.1,-.83],[2.15,-.82],[2.2,-.8],[2.25,-.77],[2.26,-.72],[2.13,-.88],[2.1,-.9],[2.26,-.8],[2.29,-.82],[2.18,-.84],[2.20,-.8],
[1.88,-1.17],[2.12,-1.23],[2.16,-1.08],[2.19,-1.17],[2.22,-1.2],[2.24,-1.25],[2.31,-1.2],[2.23,-1.06],[2.26,-1.02],[2.30,-.98],[2.28,-.94],[2.32,-.88],[2.36,-.84],[2.40,-.86],[2.43,-.9],[2.45,-.9],[2.33,-.86],[2.53,-.8],[2.52,-1.28],[2.55,-1.2],[2.65,-.96],[2.68,-.92],
[1.08,-.11],[1.14,-.14],[1.04,-.15],[1.1,-.18],[1.16,-.21],[1.22,-.17],[1.255,-.2],[1.275,-.26],[1.22,-.29],[1.12,-.29],[1.08,-.24],[1.02,-.21],[.96,-.18],[.9,-.15],[1.45,-.23],[1.49,-.3],[1.57,-.33],[1.61,-.32],[1.63,-.42],[1.685,-.42],[1.745,-.42],[1.765,-.39],[1.665,-.48],[1.785,-.57],[1.84,-.5],[1.86,-.5],[1.725,-.57],[1.63,-.57],[1.57,-.63],[1.51,-.64],[1.55,-.72],[1.47,-.69],[1.39,-.72],[1.43,-.53],[1.355,-.5],[1.315,-.48],[1.2,-.48],[1.16,-.57],[1.22,-.63],[1.255,-.66],[1.14,-.63],[1.1,-.57],[1.04,-.63],[1.0,-.39],[1.04,-.42],[1.1,-.42],[1.16,-.45],[1.51,-.51],[1.57,-.54],[1.61,-.53],[1.355,-.57],[1.39,-.6],[1.45,-.64],[1.63,-.75],[1.705,-.79],[1.765,-.84],[1.745,-.9],[1.9,-.87],[1.96,-.87],[2.0,-.81],[1.92,-1.02],[1.94,-.99],[2.06,-.78],[2.1,-.81],[2.115,-.87],[2.195,-.91],[2.27,-.93],[2.235,-.79],[2.29,-.87],[2.35,-.85],[2.41,-.89],[2.08,-1.03],[2.0,-1.09],[1.88,-1.17],[2.195,-1.09],[2.235,-1.06],[2.27,-1.0],[2.195,-1.14],[2.235,-1.17],[2.31,-1.17]];

const nTagged=[[2.15,-.07],[2.25,.22],[2.29,.26],[2.31,.17],[2.33,.13],[2.35,.13],[2.38,.13],[2.36,.06],[2.37,.05],[2.40,.1],[2.41,.13],[2.47,.18],[2.53,.13],[2.54,.13],[2.70,.18],[2.71,.18],[2.75,.13],[2.83,.31],[2.81,.18],[2.83,.18],[2.85,.18],[2.85,.13],[2.87,.13],[2.98,.13],[3.02,.18],[3.05,.13],[3.07,.13],[3.10,.13],[3.16,.13],[3.40,.13],[3.44,.13],[3.46,.13],
[2.27,0],[2.29,0],[2.30,0],[2.34,0],[2.37,0],[2.40,0],[2.42,0],[2.44,0],[2.45,0],[2.47,0],[2.49,0],[2.51,0],[2.52,0],[2.54,0],[2.55,0],[2.63,0],[2.64,0],[2.69,0],[2.70,0],[2.71,0],[2.75,0],[2.77,0],[2.78,0],[2.79,0],[2.80,0],[2.82,0],[2.84,0],[2.85,0],[2.86,0],[2.87,0],[2.89,0],[2.92,0],[2.96,0],[2.98,0],[3.0,0],[3.02,0],[3.05,0],[3.09,0],[3.11,0],[3.12,0],[3.14,0],[3.16,0],[3.18,0],[3.19,0],[3.24,0],[3.26,0],[3.28,0],[3.33,0],[3.35,0],[3.42,0],[3.52,0],[3.54,0],[3.58,0],[3.70,0],[3.77,0],[4.0,0],
[2.29,-.1],[2.31,-.1],[2.33,-.11],[2.35,-.11],[2.32,-.16],[2.40,-.2],[2.42,-.2],[2.48,-.08],[2.50,-.13],[2.46,-.17],[2.50,-.17],[2.44,-.24],[2.42,-.22],[2.6,-.13],[2.62,-.15],[2.58,-.08],[2.64,-.15],[2.66,-.17],[2.68,-.18],[2.66,-.13],[2.70,-.12],[2.72,-.1],[2.66,-.08],[2.84,-.14],[2.85,-.17],[2.86,-.16],[2.88,-.16],[2.97,-.12],[3.0,-.12],[3.05,-.12],[3.12,-.09],[3.16,-.07],[3.14,-.1],[3.14,-.17],[3.19,-.17],[3.24,-.1],[3.27,-.12],[3.25,-.18],[3.29,-.14],[3.32,-.1],[3.49,-.1],[3.51,-.12],[3.55,-.09],[3.57,-.08],[3.60,-.12],[3.62,-.11],[3.62,-.08],[3.67,-.14],[3.63,-.14],[3.64,-.17],[3.75,-.18],[3.80,-.2],[3.92,-.16],[3.40,-.22],[3.43,-.22],[3.50,-.2],[3.35,-.2],
[2.36,-.36],[2.37,-.38],[2.38,-.39],[2.41,-.39],[2.46,-.39],[2.49,-.39],[2.52,-.43],[2.55,-.42],[2.50,-.48],[2.49,-.49],[2.49,-.5],[2.55,-.39],[2.56,-.33],[2.56,-.32],[2.59,-.32],[2.60,-.38],[2.63,-.38],[2.80,-.38],[2.82,-.35],[2.84,-.38],[2.88,-.3],[2.90,-.27],[2.92,-.24],[2.92,-.3],[2.94,-.27],[2.96,-.25],[3.0,-.2],[3.0,-.26],[3.03,-.24],[3.06,-.26],[3.07,-.32],[3.12,-.3],[3.17,-.3],[3.20,-.29],[3.05,-.35],[2.97,-.3],[2.96,-.34],[3.0,-.38],[3.03,-.36],[3.09,-.38],[3.12,-.36],[3.18,-.38],[3.22,-.34],
[2.80,-.42],[2.83,-.42],[2.86,-.45],[2.83,-.46],[2.85,-.47],[2.87,-.47],[2.88,-.42],[2.80,-.48],[2.82,-.48],[2.85,-.5],[2.88,-.49],[2.90,-.44],[2.83,-.53],[2.82,-.55],[2.95,-.43],[2.97,-.46],[3.0,-.42],[3.04,-.44],[3.07,-.42],[3.07,-.5],[3.10,-.48],[3.10,-.55],[3.15,-.55],[3.13,-.58],[3.02,-.6],[2.99,-.6],[2.97,-.62],[2.98,-.66],[3.05,-.56],[3.10,-.62],[3.13,-.6],[3.15,-.62],[3.2,-.63],[3.22,-.6],[3.28,-.6],[3.30,-.58],[2.68,-.7],[2.70,-.7],[2.72,-.71],[2.84,-.62],[2.89,-.71],[3.05,-.83],[3.14,-.79],[3.15,-.72],[3.17,-.72],[3.18,-.78],[3.19,-.76],[3.27,-.7],[3.25,-.66],[3.33,-.72],[3.37,-.68],[3.38,-.62],[3.34,-.42],[3.37,-.49],[3.40,-.47],[3.39,-.42],
[3.43,-.64],[3.46,-.66],[3.48,-.62],[3.50,-.68],[3.52,-.64],[3.50,-.58],[3.55,-.6],[3.59,-.6],[3.62,-.54],[3.60,-.65],[3.60,-.68],[3.62,-.62],[3.65,-.55],[3.53,-.54],[3.44,-.7],[3.46,-.72],[3.49,-.74],[3.52,-.78],[3.53,-.82],[3.55,-.78],[3.58,-.72],[3.60,-.76],[3.62,-.7],[3.65,-.65],[3.68,-.62],[3.70,-.7],[3.70,-.65],[3.73,-.72],[3.75,-.66],[3.78,-.58],[3.85,-.55],[3.92,-.5],[3.95,-.44],[3.80,-.47],[3.78,-.53],[3.89,-.34],[3.93,-.3],[3.94,-.34],[3.75,-.38],[3.80,-.4],[3.97,-.5],[4.01,-.39],[3.60,-.32],[3.62,-.3],[3.70,-.3],[3.73,-.3],[3.6,-.45],[3.67,-.41],[3.7,-.43],[3.65,-.46],[3.74,-.48],[3.70,-.52],
[3.40,-.82],[3.38,-.85],[3.40,-.88],[3.36,-.9],[3.38,-.9],[3.44,-.88],[3.55,-.92],[3.60,-.88],[3.6,-.95],[3.57,-1.0],[3.60,-.85],[3.63,-.88],[3.68,-.85],[3.70,-.92],[3.72,-.88],[3.68,-.98],[3.70,-.94],[3.74,-.88],[3.76,-.85],[3.75,-.94],[3.80,-.92],[3.80,-.82],[3.82,-.86],[3.82,-.95],[3.85,-.98],[3.67,-1.02],[3.69,-1.04],[3.78,-1.05],[3.83,-.72],[3.87,-.78],[3.88,-.7],[3.90,-.66],[3.92,-.72],[3.93,-.76],[3.95,-.78],[3.94,-.68],[3.98,-.7],[4.0,-.72],[4.02,-.75],[4.05,-.78],[3.98,-.82],[4.0,-.9],[4.02,-.92],[4.05,-.92],[3.89,-.78],[3.85,-.64],[4.04,-.98],[4.08,-.93],[4.10,-.9],[3.75,-1.14],[3.82,-1.18],[3.86,-1.18],[3.90,-1.18],[3.94,-1.18],[3.99,-1.18],
[4.14,-.5],[4.20,-.62],[4.15,-.62],[4.12,-.75],[4.15,-.8],[4.15,-.85],[4.17,-.9],[4.2,-.9],[4.15,-1.03],[4.2,-1.1],[4.22,-1.1],[4.23,-1.03],[4.23,-1.08],[4.25,-.68],[4.28,-.76],[4.29,-.85],[4.3,-.85],[4.27,-.7],[4.25,-.82],[4.36,-.85],[4.37,-.75],[4.28,-.37],[4.33,-.47],[4.16,-1.27],[4.24,-1.2],[4.29,-1.31],[4.32,-1.17],[4.33,-.9],[4.37,-1.0],[4.37,-.83],[4.42,-.88],
[3.485,-.5],[3.52,-.56],[3.57,-.5],[3.615,-.53],[3.665,-.59],[3.7,-.56],[3.75,-.5],[3.8,-.47],[3.815,-.56],[3.85,-.62],[3.9,-.59],[3.93,-.65],[3.88,-.68],[3.98,-.68],[4.03,-.71],[3.965,-.74],[4.03,-.75],[3.5,-.62],[3.55,-.69],[3.585,-.77],[3.615,-.83],[3.665,-.8],[3.715,-.84],[3.765,-.9],[3.815,-.86],[3.865,-.8],[3.9,-.95],[3.78,-.92],[3.7,-.92],[3.6,-.77],[3.57,-.59],[3.45,-.69],[3.485,-.74],[3.615,-.62],[3.665,-.66],[3.715,-.65],[3.75,-.62],[3.765,-.75],[3.83,-.8],[3.88,-.86],[3.385,-.86],[3.435,-.83],[3.52,-.9],[3.35,-.78]];

const sTagged=[[0,.30],[0,.28],[0,.25],[0,.22],[0,.2],[0,.18],[0,.15],[0,.13],[0,.11],[0,.09],[0,.06],[0,.03],[0,.0],[.01,0],
[.3,.07],[.3,.02],[.3,-.01],[.3,-.03],[.3,-.05],[.3,-.07],[.3,-.09],[.3,-.11],[.3,-.13],[.3,-.16],[.3,-.18],[.3,-.3],
[.47,-.07],[.47,-.1],[.47,-.12],[.47,-.14],[.47,-.16],[.47,-.18],[.47,-.2],[.47,-.22],[.47,-.24],[.47,-.42],
[.6,-.07],[.6,-.09],[.6,-.12],[.6,-.14],[.6,-.17],[.6,-.2],[.6,-.22],[.6,-.25],[.6,-.28],[.6,-.33],[.6,-.36],[.6,-.48],
[.70,-.16],[.70,-.24],[.70,-.27],[.70,-.29],[.70,-.31],[.70,-.34],[.70,-.37],[.70,-.42],
[.78,-.28],[.78,-.31],[.78,-.33],[.78,-.36],[.78,-.38],[.78,-.44],[.78,-.5],[.78,-.53],
[.85,-.3],[.85,-.33],[.85,-.38],[.85,-.42],[.85,-.47],[.85,-.51],[.85,-.56],
[.92,-.31],[.92,-.38],[.92,-.41],[.92,-.46],[.92,-.55],[.95,-.38],[.97,-.4],[.97,-.44],
[1.0,-.33],[1.0,-.38],[1.0,-.42],[1.0,-.45],[1.0,-.48],[1.0,-.5],[1.0,-.54],[1.0,-.63],[1.03,-.4],[1.03,-.45],[1.03,-.48],[1.03,-.52],[1.05,-.38],[1.05,-.44],[1.05,-.5],[1.05,-.54],[1.06,-.6],[1.08,-.42],[1.08,-.47],[1.08,-.52],[1.08,-.58],[1.10,-.38],[1.1,-.5],[1.11,-.44],[1.12,-.55],[1.13,-.61],[1.15,-.4],[1.14,-.5],[1.15,-.55],[1.16,-.6],[1.17,-.66],[1.18,-.52],[1.18,-.58],[1.2,-.55],[1.2,-.62],[1.21,-.67],[1.21,-.72],[1.22,-.6],[1.24,-.52],[1.24,-.58],[1.24,-.68],[1.24,-.72],[1.26,-.64],[1.27,-.6],[1.28,-.55],[1.29,-.66],[1.28,-.72],[1.3,-.6],[1.3,-.7],[1.31,-.75],[1.32,-.55],[1.32,-.65],[1.33,-.7],[1.34,-.6],[1.35,-.75],[1.36,-.68],[1.36,-.72],[1.37,-.8],[1.38,-.62],[1.39,-.72],[1.4,-.62],[1.4,-.68],[1.41,-.8],[1.42,-.75],[1.43,-.66],[1.44,-.6],[1.45,-.72],[1.45,-.8],[1.46,-.64],[1.48,-.7],[1.48,-.8],[1.5,-.75],[1.5,-.84],[1.5,-.9],[1.5,-.94],[1.52,-.85],[1.48,-.86],[1.52,-.9],[1.55,-.95],[1.55,-.85],[1.57,-.75],[1.58,-.72],[1.6,-.74],[1.62,-.7],[1.68,-.69],[1.7,-.74],[1.72,-.78],[1.76,-.8],[1.73,-.85],[1.78,-.83],[1.72,-.9],[1.71,-.96],[1.76,-.88],[1.79,-.93],[1.74,-.98],[1.8,-.87],[1.82,-.9],[1.84,-.92],[1.83,-.95],[1.8,-1.0],[1.82,-1.03],[1.78,-.98],[1.75,-.92],[1.86,-.9],[1.88,-.95],[1.85,-.97],[1.9,-.96],[1.84,-1.03],[1.88,-1.0],[1.92,-1.0],[1.85,-1.06],[1.95,-1.0],[1.98,-1.06],[2.0,-1.08],[2.02,-1.1],[2.05,-1.05],[2.08,-1.08],[2.04,-1.13],[2.1,-1.03],[2.1,-1.2],[2.09,-1.12],[2.11,-1.12],[2.21,-1.07],[2.2,-1.12],[2.22,-1.16],[2.3,-1.16],[2.27,-1.2],[2.3,-1.28],[2.33,-1.2],[2.35,-1.2],[2.49,-1.27],[2.55,-1.29],
[.95,-.36],[.985,-.39],[1.02,-.42],[1.06,-.44],[.97,-.47],[1.0,-.5],[1.04,-.53],[1.08,-.48],[1.1,-.41],[1.13,-.47],[1.17,-.51],[1.125,-.56],[1.21,-.59],[1.17,-.62],[1.245,-.63],[1.28,-.59],[1.32,-.62],[1.355,-.66],[1.3,-.69],[1.245,-.71],[1.34,-.74],[1.39,-.68],[1.43,-.59],[1.45,-.66],[1.475,-.74],[1.45,-.8],[1.485,-.84],[1.54,-.8],[1.56,-.87],[1.5,-.71],[1.58,-.71],[1.63,-.68],[1.69,-.63],
[1.65,-.8],[1.69,-.83],[1.725,-.86],[1.76,-.83],[1.8,-.89],[1.745,-.92],[1.69,-.9],[1.67,-.87],[1.84,-.8],[1.875,-.84],[1.89,-.9],[1.8,-.96],[1.78,-.98],[1.84,-1.0],[1.725,-.75],[1.71,-.72],[1.65,-.77]];

const panels=[
 {title:"Number of Juveniles",xlab:"N",data:juveniles,ticks:ticksN,labels:labelsN,fmt:d=>d,ax:82.7,x0:88.3,x1:284.3,y2:60,y05:239,xa:241.7,tickY:272,labY:312,titleY:14},
 {title:"Number of Spawners",xlab:"S",data:spawners,ticks:ticksS,labels:labelsS,fmt:d=>d,ax:451.7,x0:460.7,x1:680,y2:60,y05:239,xa:241.7,tickY:272,labY:312,titleY:14},
 {title:"Transition to Outmigrant",xlab:"s1",data:transition,ticks:ticksS1,labels:labelsS1,fmt:d=>d.toFixed(1),ax:82.7,x0:91.7,x1:322.3,y2:427.7,y05:607,xa:610,tickY:641,labY:680,titleY:382},
 {title:"Marine Survival",xlab:"s2",data:marine,ticks:ticksS2,labels:labelsS2,fmt:d=>d.toFixed(3),ax:451.7,x0:460.7,x1:690,y2:427.7,y05:607,xa:610,tickY:641,labY:680,titleY:382},
 {title:"Juvenile Tagging Probability",xlab:"p",data:tagProb,ticks:ticksP,labels:labelsP,fmt:d=>d.toFixed(2),ax:82.7,x0:91.7,x1:321.7,y2:796,y05:975,xa:977.7,tickY:1009.5,labY:1048,titleY:751},
 {title:"Spawners Without Tags",xlab:"S untagged",data:sUntagged,ticks:ticksSU,labels:labelsSU,fmt:d=>d,ax:451.7,x0:460.7,x1:690.7,y2:796,y05:975,xa:977.7,tickY:1009.5,labY:1048,titleY:751},
 {title:"Number Juveniles Tagged",xlab:"N tagged",data:nTagged,ticks:ticksNT,labels:labelsNT,fmt:d=>d,ax:82.7,x0:110.3,x1:312.3,y2:1163.7,y05:1343.3,xa:1346,tickY:1377,labY:1415,titleY:1118.5},
 {title:"Spawners With Tags",xlab:"S tagged",data:sTagged,ticks:ticksST,labels:labelsST,fmt:d=>d,ax:451.7,x0:460.7,x1:668.3,y2:1163.7,y05:1343.3,xa:1346,tickY:1377,labY:1415,titleY:1118.5,refs:true}
];
const AXIS="#333", SANS="'Liberation Sans',Arial,sans-serif";
const svg=d3.select("#c");
function axisLine(g,x1,y1,x2,y2){g.append("line").attr("x1",x1).attr("y1",y1).attr("x2",x2).attr("y2",y2).attr("stroke",AXIS).attr("stroke-width",1.2);}
panels.forEach(p=>{
  const g=svg.append("g");
  const x=d3.scaleLog().domain([p.ticks[0],p.ticks[p.ticks.length-1]]).range([p.x0,p.x1]);
  const y=d3.scaleLog().domain([2,0.05]).range([p.y2,p.y05]);
  g.append("text").attr("x",p.ax).attr("y",p.titleY).attr("dy","0.35em").attr("font-family",SANS).attr("font-weight","bold").attr("font-size",20.4).attr("fill","#111").text(p.title);
  axisLine(g,p.ax,p.y2,p.ax,p.y05);
  precisionTicks.forEach(t=>axisLine(g,p.ax-10,y(t),p.ax,y(t)));
  precisionLabels.forEach(t=>g.append("text").attr("transform",`translate(${p.ax-29},${y(t)}) rotate(-90)`).attr("text-anchor","middle").attr("dy","0.35em").attr("font-family",SANS).attr("font-size",16.5).attr("fill","#333").text(t.toFixed(2)));
  const yMid=(p.y2+p.y05)/2-2.3;
  g.append("text").attr("transform",`translate(${p.ax-67.5},${yMid}) rotate(-90)`).attr("text-anchor","middle").attr("dy","0.35em").attr("font-family",SANS).attr("font-weight","bold").attr("font-size",14.5).attr("letter-spacing",0.3).attr("fill","#111").text("Precision");
  axisLine(g,p.x0,p.xa,p.x1,p.xa);
  p.ticks.forEach(t=>axisLine(g,x(t),p.xa,x(t),p.xa+10.5));
  p.labels.forEach(t=>g.append("text").attr("x",x(t)).attr("y",p.tickY).attr("dy","0.35em").attr("text-anchor","middle").attr("font-family",SANS).attr("font-size",16.5).attr("fill","#333").text(p.fmt(t)));
  g.append("text").attr("x",(p.ax+(p.ax<200?330:698))/2).attr("y",p.labY).attr("dy","0.35em").attr("text-anchor","middle").attr("font-family",SANS).attr("font-size",16.5).attr("fill","#333").text(p.xlab);
  if(p.refs){
    const dash=(x1,y1,x2,y2)=>g.append("line").attr("x1",x1).attr("y1",y1).attr("x2",x2).attr("y2",y2).attr("stroke","#333").attr("stroke-width",1.2).attr("stroke-dasharray","9 6");
    dash(p.ax,y(0.3),x(30),y(0.3));dash(p.ax,y(0.1),x(200),y(0.1));
    dash(x(30),p.y05,x(30),y(0.3));dash(x(200),p.y05,x(200),y(0.1));
    g.append("text").attr("transform",`translate(${x(30)},1158) rotate(90)`).attr("dy","0.35em").attr("font-family",SANS).attr("font-size",18).attr("fill","#222").text("30 for 30%");
    g.append("text").attr("transform",`translate(${x(200)},1201.5) rotate(90)`).attr("dy","0.35em").attr("font-family",SANS).attr("font-size",18).attr("fill","#222").text("200 for 10%");
  }
  g.append("g").selectAll("circle").data(p.data).join("circle").attr("cx",d=>x(10**d[0])).attr("cy",d=>y(10**d[1])).attr("r",2.5).attr("fill","#000");
});
</script></body></html>
